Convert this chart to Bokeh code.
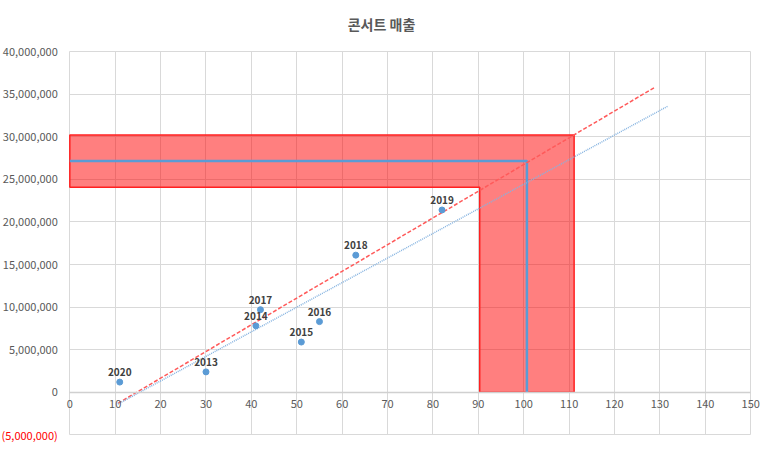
from bokeh.plotting import figure
from bokeh.models import FixedTicker, NumeralTickFormatter, LinearAxis, Grid
from bokeh.core.properties import value
from bokeh.embed import file_html
from bokeh.resources import INLINE

# data
years = ["2013", "2014", "2015", "2016", "2017", "2018", "2019", "2020"]
audience = [30, 41, 51, 55, 42, 63, 82, 11]
sales = [2400000, 7800000, 5900000, 8300000, 9700000, 16100000, 21400000, 1200000]

# trend lines (end points)
trend_red_x = [10.6, 128.9]
trend_red_y = [-1290000, 35800000]
trend_blue_x = [10.6, 131.8]
trend_blue_y = [-1380000, 33600000]

# forecast point and its band
pred_x = 100.7
pred_y = 27160000
band_x = [90.3, 111.1]
band_y = [24060000, 30200000]

x_ticks = list(range(0, 151, 10))
y_ticks = list(range(-5000000, 40000001, 5000000))

FONT = "Noto Sans CJK KR"
GRID = "#D9D9D9"
TXT = "#595959"
BLUE = "#5B9BD5"

# the frame is a bit larger than the plot area so the axis labels,
# which sit on fixed locations, are not cut off
p = figure(width=762, height=445, output_backend="svg", toolbar_location=None,
           x_range=(-15.27, 152.6), y_range=(-6240000, 40940000),
           min_border_left=0, min_border_right=0, min_border_top=43, min_border_bottom=0)
p.outline_line_color = None

p.title.text = "콘서트 매출"
p.title.align = "center"
p.title.text_font = FONT
p.title.text_font_size = "14px"
p.title.text_font_style = "bold"
p.title.text_color = TXT
p.title.standoff = 20

# axes
p.xaxis.fixed_location = 0
p.xaxis.bounds = (0, 150)
p.xaxis.ticker = FixedTicker(ticks=x_ticks)
p.yaxis.fixed_location = 0
p.yaxis.ticker = FixedTicker(ticks=[t for t in y_ticks if t >= 0])
p.yaxis.formatter = NumeralTickFormatter(format="0,0")

neg_axis = LinearAxis(fixed_location=0, ticker=FixedTicker(ticks=[t for t in y_ticks if t < 0]),
                      formatter=NumeralTickFormatter(format="(0,0)"))
neg_axis.major_label_text_color = "#FF0000"
p.add_layout(neg_axis, "left")

for ax in (p.xaxis[0], p.yaxis[0], neg_axis):
    ax.major_tick_out = 0
    ax.major_tick_in = 0
    ax.minor_tick_out = 0
    ax.minor_tick_in = 0
    ax.major_label_text_font = FONT
    ax.major_label_text_font_size = "11px"
    ax.axis_line_color = None
for ax in (p.xaxis[0], p.yaxis[0]):
    ax.major_label_text_color = TXT
p.yaxis.major_label_standoff = 12
p.xaxis.axis_line_color = "#D0D0D0"
p.xaxis.axis_line_width = 1.5
p.xaxis.major_label_standoff = 8

p.grid.grid_line_color = GRID
p.grid.grid_line_width = 1
p.ygrid.ticker = FixedTicker(ticks=y_ticks)
p.xgrid.ticker = FixedTicker(ticks=x_ticks)
if "cross_bounds" in Grid.properties():
    p.ygrid.cross_bounds = (0, 150)
    p.xgrid.cross_bounds = (-5000000, 40000000)

# forecast band (L shape)
bx = [0, band_x[1], band_x[1], band_x[0], band_x[0], 0]
by = [band_y[1], band_y[1], 0, 0, band_y[0], band_y[0]]
p.patch(bx, by, fill_color="#FF0000", fill_alpha=0.5,
        line_color="#FF2020", line_width=1.5)

# forecast guide lines
p.line([0, pred_x, pred_x], [pred_y, pred_y, 0], line_color=BLUE, line_width=2.5)

# trend lines
p.line(trend_red_x, trend_red_y, line_color="#FF5A5A", line_width=1.5, line_dash="4 2")
p.line(trend_blue_x, trend_blue_y, line_color="#85B3E0", line_width=1.5, line_dash="1 1")

# points and labels
p.scatter(audience, sales, size=6, color=BLUE)
p.text(audience, sales, text=years, text_align="center", text_baseline="bottom",
       y_offset=-6, text_font_size="10px", text_font_style="bold",
       text_color="#404040", text_font=value(FONT))

open("out.html", "w").write(file_html(p, INLINE))
